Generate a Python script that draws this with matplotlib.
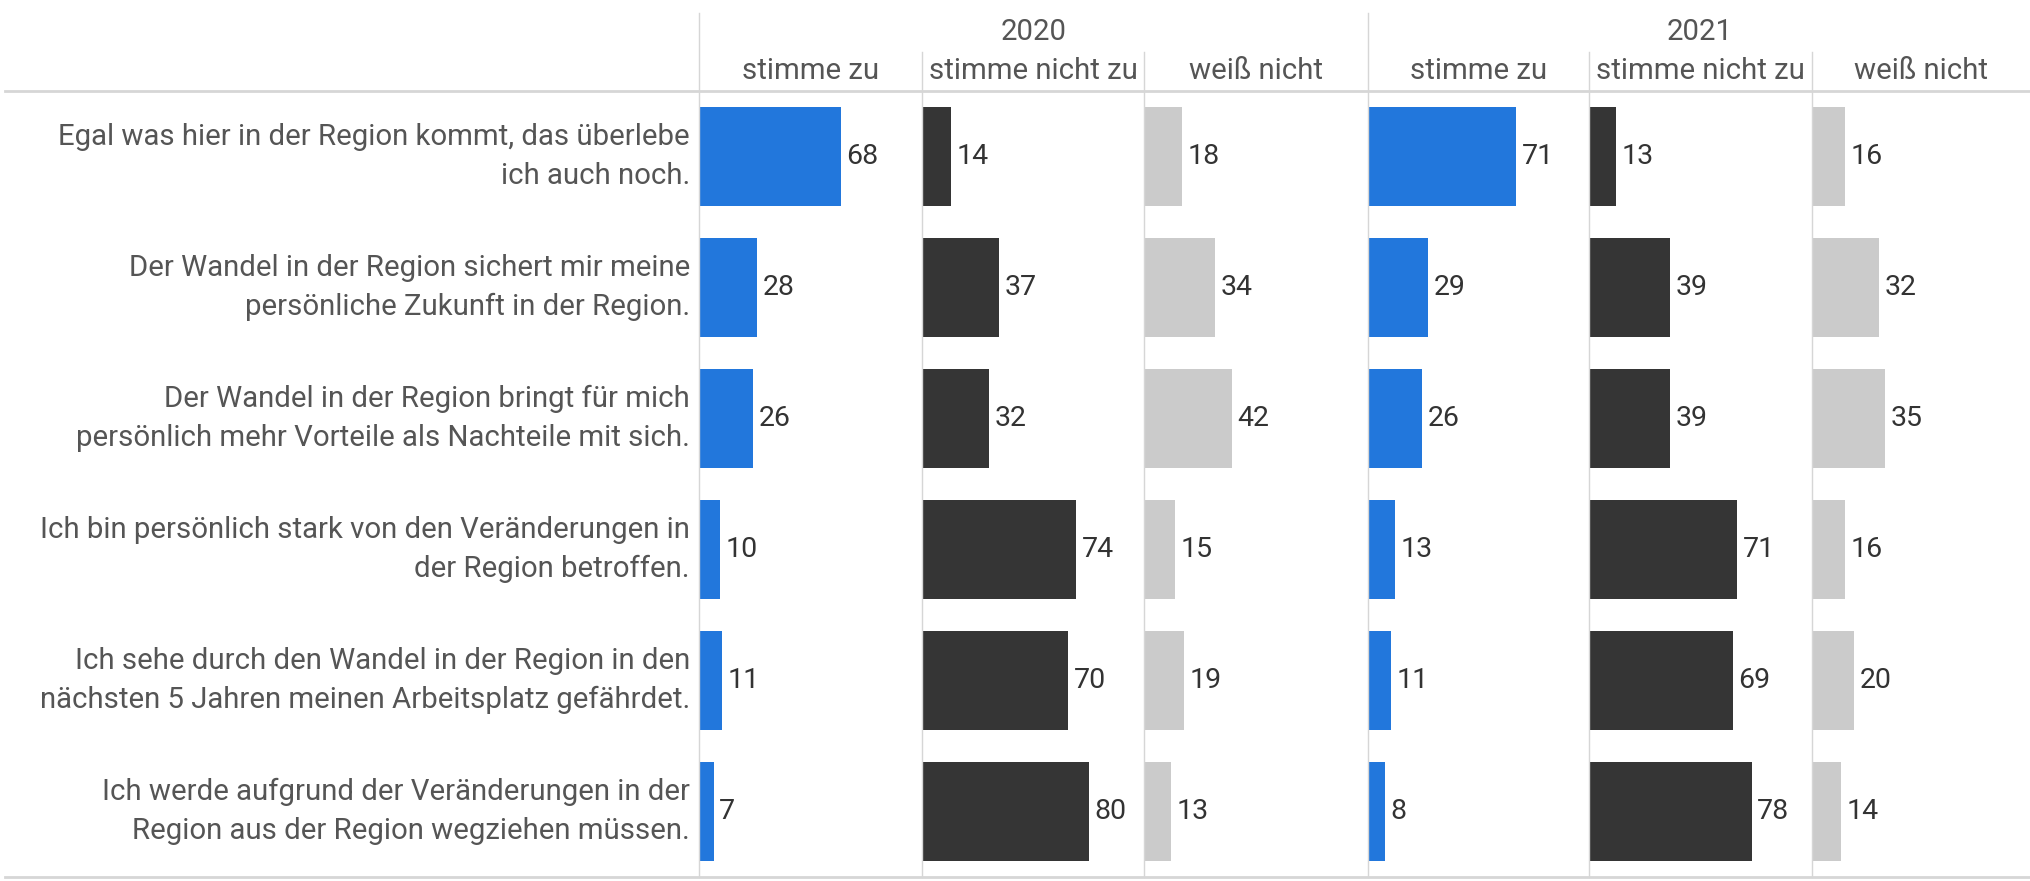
import matplotlib.pyplot as plt
from matplotlib.lines import Line2D

# survey statements (row labels)
statements = [
    "Egal was hier in der Region kommt, das überlebe\nich auch noch.",
    "Der Wandel in der Region sichert mir meine\npersönliche Zukunft in der Region.",
    "Der Wandel in der Region bringt für mich\npersönlich mehr Vorteile als Nachteile mit sich.",
    "Ich bin persönlich stark von den Veränderungen in\nder Region betroffen.",
    "Ich sehe durch den Wandel in der Region in den\nnächsten 5 Jahren meinen Arbeitsplatz gefährdet.",
    "Ich werde aufgrund der Veränderungen in der\nRegion aus der Region wegziehen müssen.",
]
years = ["2020", "2021"]
answers = ["stimme zu", "stimme nicht zu", "weiß nicht"]

zu_2020 = [68, 28, 26, 10, 11, 7]
nicht_2020 = [14, 37, 32, 74, 70, 80]
weiss_2020 = [18, 34, 42, 15, 19, 13]
zu_2021 = [71, 29, 26, 13, 11, 8]
nicht_2021 = [13, 39, 39, 71, 69, 78]
weiss_2021 = [16, 32, 35, 16, 20, 14]

columns = [zu_2020, nicht_2020, weiss_2020, zu_2021, nicht_2021, weiss_2021]
colors = ["#2277dc", "#353535", "#cbcbcb"] * 2

plt.rcParams['font.family'] = ['Roboto', 'DejaVu Sans']
FS = 21.2

W, H = 2031, 881
fig = plt.figure(figsize=(W / 100, H / 100), dpi=100)

# layout in pixels
col_left = [699, 922, 1144, 1368, 1589, 1812]
col_right = col_left[1:] + [W]
top_px, bottom_px = 91, 877
px_per_unit = 2.085
label_col = "#555555"
line_col = "#d6d6d6"

def fx(px):
    return px / W

def fy(py):
    return 1 - py / H

rows = list(range(len(statements)))
for i, vals in enumerate(columns):
    w = col_right[i] - col_left[i]
    ax = fig.add_axes([fx(col_left[i]), fy(bottom_px), fx(w), fy(top_px) - fy(bottom_px)])
    ax.barh(rows, vals, height=0.75, color=colors[i])
    ax.set_xlim(0, w / px_per_unit)
    ax.set_ylim(len(rows) - 0.5, -0.5)
    ax.axis('off')
    for r, v in zip(rows, vals):
        ax.annotate(str(v), (v, r), xytext=(4, 0), textcoords='offset points',
                    va='center', ha='left', fontsize=20.5, color="#333333")
    # sub header
    fig.text(fx((col_left[i] + col_right[i]) / 2), fy(71), answers[i % 3],
             ha='center', va='center', fontsize=FS, color=label_col)

# row labels
for r, s in enumerate(statements):
    yc = top_px + (r + 0.5) * (bottom_px - top_px) / len(statements)
    fig.text(fx(690), fy(yc), s, ha='right', va='center', fontsize=FS,
             color=label_col, linespacing=1.5)

# year headers
for k, yr in enumerate(years):
    xc = (col_left[3 * k] + col_right[3 * k + 2]) / 2
    fig.text(fx(xc), fy(32), yr, ha='center', va='center', fontsize=FS, color=label_col)

# separators
for i, x in enumerate(col_left):
    y0 = 13 if i % 3 == 0 else 52
    fig.add_artist(Line2D([fx(x), fx(x)], [fy(y0), fy(bottom_px)], color=line_col, lw=1))
fig.add_artist(Line2D([fx(5), 1], [fy(top_px), fy(top_px)], color=line_col, lw=2))
fig.add_artist(Line2D([fx(5), 1], [fy(bottom_px), fy(bottom_px)], color=line_col, lw=2))

fig.savefig('out.png', dpi=100)
